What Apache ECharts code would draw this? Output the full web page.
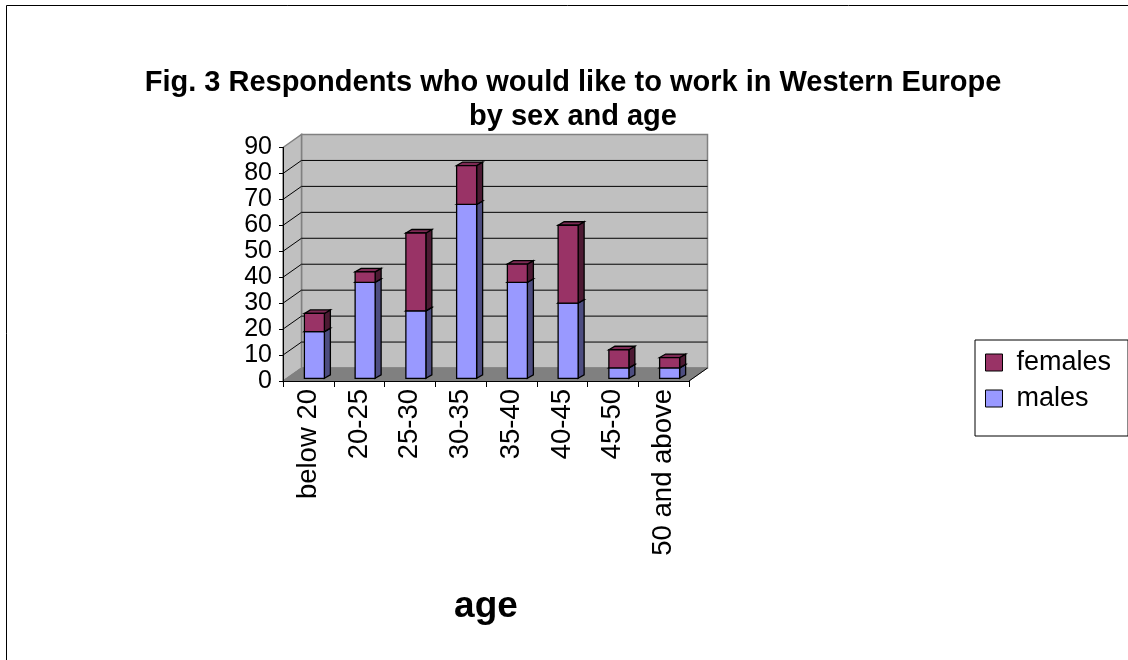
<!DOCTYPE html>
<html>
<head>
<meta charset="utf-8">
<script src="https://cdn.jsdelivr.net/npm/echarts@6/dist/echarts.min.js"></script>
<style>
  html, body { margin: 0; padding: 0; background: #fff; }
  #chart { width: 1128px; height: 660px; }
</style>
</head>
<body>
<div id="chart"></div>
<script>
// Age groups and respondent counts per sex
const ageGroups = ['below 20', '20-25', '25-30', '30-35', '35-40', '40-45', '45-50', '50 and above'];
const males   = [18, 37, 26, 67, 37, 29, 4, 4];
const females = [7, 4, 30, 15, 7, 30, 7, 4];
const valueTicks = [0, 10, 20, 30, 40, 50, 60, 70, 80, 90];

const FONT = 'Arial, "Liberation Sans", sans-serif';

// Oblique depth of the plot box: offset of the back wall from the front plane
const DEPTH = [18.5, -13];
// Column geometry inside the box
const BAR_W = 20;
const BAR_SHIFT = [6, -2.7];
const BAR_DEPTH = [6, -3.5];

const chart = echarts.init(document.getElementById('chart'), null, { renderer: 'canvas' });

function poly(points, fill, stroke, lw) {
  return { type: 'polygon', shape: { points: points }, style: { fill: fill, stroke: stroke || 'none', lineWidth: lw || 0 } };
}
function seg(x1, y1, x2, y2, stroke, lw) {
  return { type: 'line', shape: { x1: x1, y1: y1, x2: x2, y2: y2 }, style: { stroke: stroke, lineWidth: lw || 1 } };
}

// Walls, floor and gridlines of the pseudo-3D box, derived from the grid rectangle
function renderWalls(params, api) {
  const cs = params.coordSys;
  const dx = DEPTH[0], dy = DEPTH[1];
  const x0 = cs.x, x1 = cs.x + cs.width, yTop = cs.y, yBot = cs.y + cs.height;
  const children = [];
  children.push(poly([[x0 + dx, yTop + dy], [x1 + dx, yTop + dy], [x1 + dx, yBot + dy], [x0 + dx, yBot + dy]], '#c0c0c0', '#808080', 1.5));
  children.push(poly([[x0, yTop], [x0 + dx, yTop + dy], [x0 + dx, yBot + dy], [x0, yBot]], '#c0c0c0', '#808080', 1.5));
  children.push(poly([[x0, yBot], [x0 + dx, yBot + dy], [x1 + dx, yBot + dy], [x1, yBot]], '#808080', '#808080', 1));
  valueTicks.forEach(function (v, k) {
    if (k === 0 || k === valueTicks.length - 1) return;
    const y = api.coord([0, v])[1];
    children.push(seg(x0, y, x0 + dx, y + dy, '#000', 1));
    children.push(seg(x0 + dx, y + dy, x1 + dx, y + dy, '#000', 1));
  });
  children.push(seg(x1, yBot, x1 + dx, yBot + dy, '#000', 1));
  return { type: 'group', children: children };
}

// A stacked column segment drawn as a small box (front, right side, top)
function boxRenderer(front, side, top) {
  return function (params, api) {
    const i = api.value(0);
    const pb = api.coord([i, api.value(1)]);
    const pt = api.coord([i, api.value(2)]);
    const xl = pb[0] - BAR_W / 2 + BAR_SHIFT[0];
    const xr = xl + BAR_W;
    const yb = pb[1] + BAR_SHIFT[1];
    const yt = pt[1] + BAR_SHIFT[1];
    const dx = BAR_DEPTH[0], dy = BAR_DEPTH[1];
    const lw = 1.3;
    return {
      type: 'group',
      children: [
        poly([[xr, yb], [xr + dx, yb + dy], [xr + dx, yt + dy], [xr, yt]], side, '#000', lw),
        poly([[xl, yt], [xl + dx, yt + dy], [xr + dx, yt + dy], [xr, yt]], top, '#000', lw),
        poly([[xl, yb], [xr, yb], [xr, yt], [xl, yt]], front, '#000', lw)
      ]
    };
  };
}

const maleData = ageGroups.map(function (g, i) { return [i, 0, males[i]]; });
const femaleData = ageGroups.map(function (g, i) { return [i, males[i], males[i] + females[i]]; });

chart.setOption({
  backgroundColor: '#fff',
  animation: false,
  title: {
    text: 'Fig. 3 Respondents who would like to work in Western Europe\nby sex and age',
    left: 568,
    textAlign: 'center',
    top: 61,
    textStyle: { fontFamily: FONT, fontSize: 29, fontWeight: 'bold', color: '#000', lineHeight: 34 }
  },
  legend: {
    data: ['females', 'males'],
    orient: 'vertical',
    left: 975,
    top: 340,
    padding: [9, 17, 24, 10],
    itemGap: 9,
    itemWidth: 17,
    itemHeight: 17,
    icon: 'rect',
    borderColor: '#000',
    borderWidth: 1,
    borderRadius: 0,
    itemStyle: { borderColor: '#000', borderWidth: 1 },
    textStyle: { fontFamily: FONT, fontSize: 27, color: '#000', padding: [0, 0, 0, 9] }
  },
  grid: { left: 283, top: 147.5, width: 406, height: 233.5, containLabel: false },
  xAxis: {
    type: 'category',
    data: ageGroups,
    boundaryGap: true,
    z: 5,
    axisLine: { lineStyle: { color: '#000', width: 1 } },
    axisTick: { show: true, length: 6, lineStyle: { color: '#000' } },
    axisLabel: { rotate: 90, fontFamily: FONT, fontSize: 27.5, color: '#000', margin: 8, interval: 0 },
    name: 'age',
    nameLocation: 'middle',
    nameGap: 207,
    nameTextStyle: { fontFamily: FONT, fontSize: 37, fontWeight: 'bold', color: '#000' }
  },
  yAxis: {
    type: 'value',
    min: 0,
    max: 90,
    interval: 10,
    z: 5,
    axisLine: { show: true, lineStyle: { color: '#000', width: 1 } },
    axisTick: { show: true, length: 4, lineStyle: { color: '#000' } },
    axisLabel: { fontFamily: FONT, fontSize: 25, color: '#000', margin: 11 },
    splitLine: { show: false }
  },
  graphic: [{
    type: 'rect',
    shape: { x: 6.5, y: 5.5, width: 1130, height: 670 },
    style: { fill: 'none', stroke: '#000', lineWidth: 1 },
    silent: true
  }],
  series: [
    {
      type: 'custom',
      name: 'box',
      z: 1,
      clip: false,
      silent: true,
      renderItem: renderWalls,
      data: [[0, 0]],
      encode: { x: 0, y: 1 }
    },
    {
      type: 'custom',
      name: 'males',
      z: 2,
      clip: false,
      itemStyle: { color: '#9999ff', borderColor: '#000', borderWidth: 1 },
      renderItem: boxRenderer('#9999ff', '#4d4d80', '#8080e0'),
      data: maleData,
      encode: { x: 0, y: 2 }
    },
    {
      type: 'custom',
      name: 'females',
      z: 3,
      clip: false,
      itemStyle: { color: '#993366', borderColor: '#000', borderWidth: 1 },
      renderItem: boxRenderer('#993366', '#4d1a33', '#7d2a54'),
      data: femaleData,
      encode: { x: 0, y: 2 }
    }
  ]
});
</script>
</body>
</html>
